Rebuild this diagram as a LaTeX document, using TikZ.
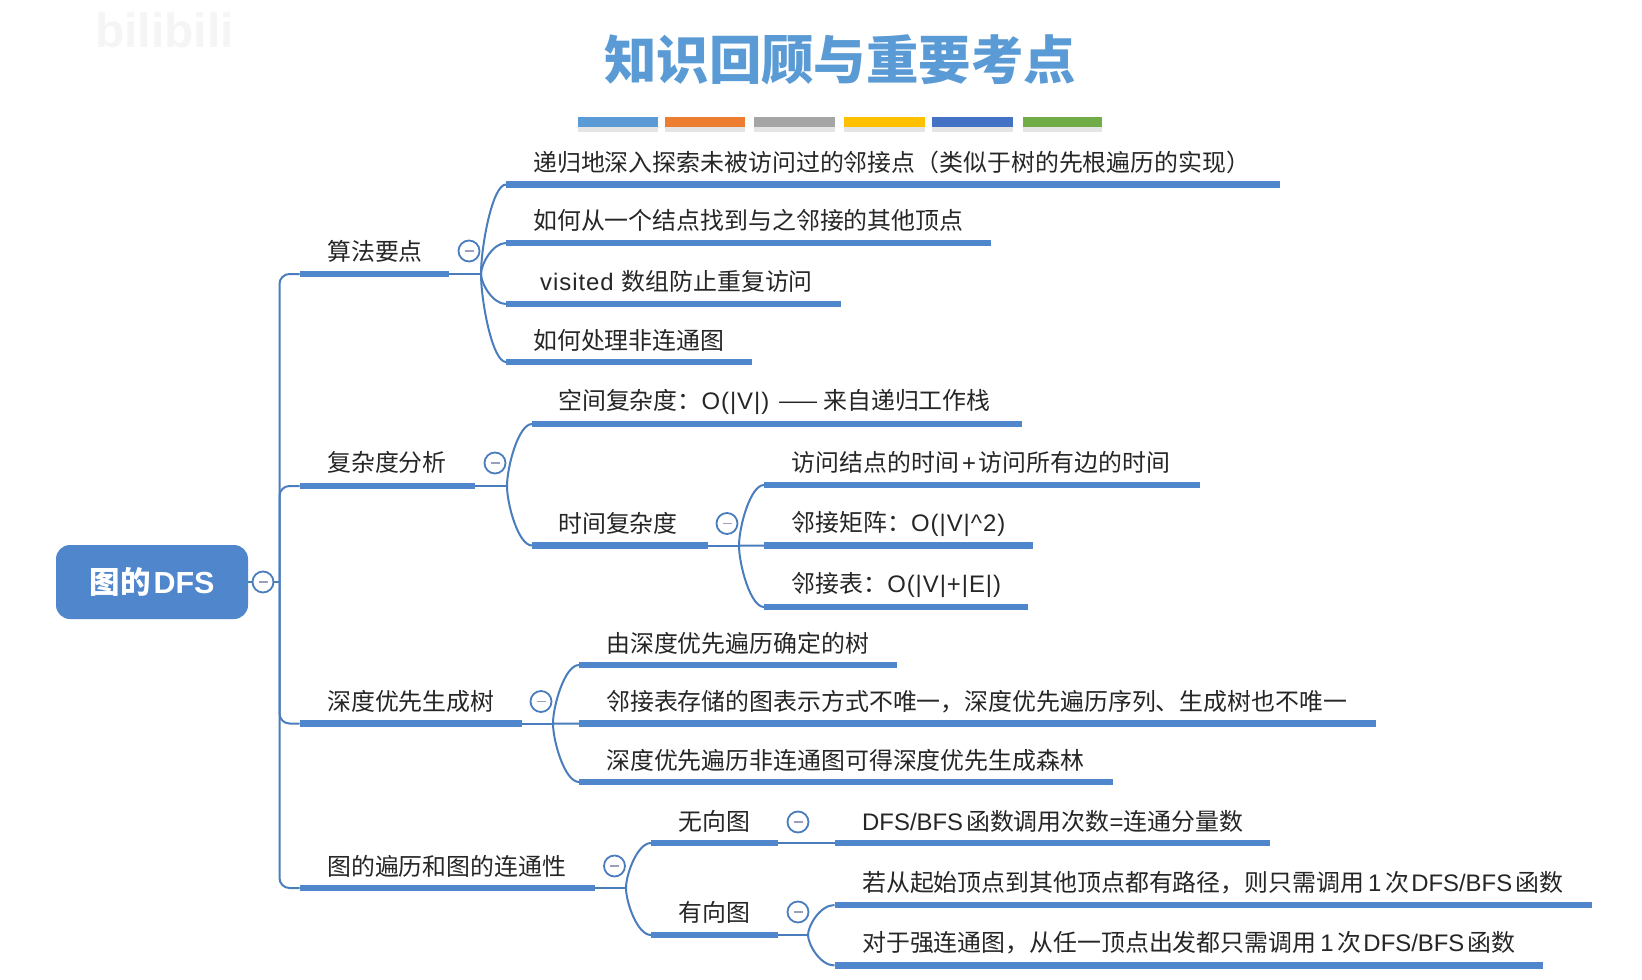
\documentclass[tikz,border=0pt]{standalone}
\usepackage{fontspec}
\setmainfont{Noto Sans CJK SC}
\newfontfamily\latf{Liberation Sans}
\newfontfamily\latw[LetterSpace=4]{Liberation Sans}
\newcommand\la[1]{{\latf #1}}
\newcommand\lw[1]{{\latw #1}}
\definecolor{mblue}{HTML}{4F86CC}
\definecolor{lblue}{HTML}{4A7DBD}
\definecolor{ttl}{HTML}{5B9BD5}
\definecolor{txt}{HTML}{262626}
\definecolor{sw2}{HTML}{ED7D31}
\definecolor{sw3}{HTML}{A5A5A5}
\definecolor{sw4}{HTML}{FFC000}
\definecolor{sw5}{HTML}{4472C4}
\definecolor{sw6}{HTML}{70AD47}
\definecolor{mns}{HTML}{9A9FC0}
\tikzset{
  barstyle/.style={fill=mblue,draw=none,inner sep=0pt,minimum height=6.5pt,outer sep=0pt},
  label/.style={anchor=west,inner sep=0pt,text=txt,font=\fontsize{23.9}{28}\selectfont},
  conn/.style={draw=lblue,line width=2pt},
  btn/.style={circle,draw=lblue,line width=1.8pt,fill=white,minimum size=21pt,inner sep=0pt,
    path picture={\draw[line width=1.8pt,color=mns] ([xshift=-4.5pt]path picture bounding box.center) -- ([xshift=4.5pt]path picture bounding box.center);}},
  swatch/.style={inner sep=0pt,minimum height=10pt,anchor=west,outer sep=0pt},
  swshadow/.style={fill=black!10,draw=none}
}
\newcommand\mbar[4]{\pgfmathsetmacro\mbw{#3-#2}\node[barstyle,minimum width=\mbw pt,anchor=west] (#1) at (#2,#4) {};}
\newcommand\swt[4]{\pgfmathsetmacro\mbw{#3-#2}\fill[swshadow] (#2,127) rectangle (#3,132);\node[swatch,fill=#4,minimum width=\mbw pt] (#1) at (#2,122) {};}
\newcommand\cur[2]{\draw[conn] (#1) .. controls ($(#1)!0.3!(#1|-#2.west)$) and ($(#1|-#2.west)!0.45!(#2.west)$) .. (#2.west);}
\usetikzlibrary{calc}
\begin{document}
\begin{tikzpicture}[x=1pt,y=-1pt]
\useasboundingbox (0,0) rectangle (1642,980);
\fill[white] (0,0) rectangle (1642,980);
% faint watermark
\node[anchor=west,inner sep=0pt,text=black!4,font=\latf\bfseries\fontsize{48}{54}\selectfont] (wm) at (95,30) {bilibili};
% title
\node[inner sep=0pt,text=ttl,font=\bfseries\fontsize{52.4}{60}\selectfont] (title) at (840,60) {知识回顾与重要考点};
\swt{s1}{578}{657.5}{ttl}
\swt{s2}{665}{744.5}{sw2}
\swt{s3}{754}{834.5}{sw3}
\swt{s4}{844}{924.5}{sw4}
\swt{s5}{932}{1012.5}{sw5}
\swt{s6}{1023}{1102}{sw6}
% root
\node[fill=mblue,rounded corners=14pt,minimum width=192pt,minimum height=74pt,inner sep=0pt,text=white,font=\bfseries\fontsize{30.5}{34}\selectfont] (root) at (152,582) {\raisebox{-1pt}{图的\hspace{3pt}\la{DFS}}};
\node[btn] (rb) at (263,582) {};
\coordinate (sp) at (279.5,582);
\draw[conn] (root.east) -- (rb.west);
\draw[conn] (rb.east) -- (sp);
% level 1 bars
\mbar{a}{299.5}{449}{274}
\mbar{b}{299.5}{475}{486}
\mbar{c}{299.5}{521.5}{723.5}
\mbar{d}{299.5}{595}{888}
\foreach \n in {a,b,c,d} {\draw[conn,rounded corners=10pt] (sp) |- (\n.west);}
\node[label] (ta) at (327,251) {算法要点};
\node[label] (tb) at (327,462) {复杂度分析};
\node[label] (tc) at (327,701.5) {深度优先生成树};
\node[label] (td) at (327,866) {图的遍历和图的连通性};
% branch A
\coordinate (ja) at (481,274);
\draw[conn] (a.east) -- (ja);
\mbar{a1}{506}{1280}{184.5}
\mbar{a2}{506}{990.5}{243}
\mbar{a3}{506}{841}{304}
\mbar{a4}{506}{752}{362}
\foreach \n in {a1,a2,a3,a4} {\cur{ja}{\n}}
\node[btn] (ab) at (469,251) {};
\node[label] (ta1) at (533,162) {递归地深入探索未被访问过的邻接点（类似于树的先根遍历的实现）};
\node[label] (ta2) at (533,220) {如何从一个结点找到与之邻接的其他顶点};
\node[label] (ta3) at (540,281) {\lw{visited}\hspace{8pt}数组防止重复访问};
\node[label] (ta4) at (533,340) {如何处理非连通图};
% branch B
\coordinate (jb) at (507,486);
\draw[conn] (b.east) -- (jb);
\mbar{b1}{532}{1022}{424}
\mbar{b2}{532}{708}{545.5}
\foreach \n in {b1,b2} {\cur{jb}{\n}}
\node[btn] (bb) at (495,463) {};
\node[label] (tb1) at (558,402) {空间复杂度：\lw{O(|V|)}\hspace{9pt}——\hspace{5pt}来自递归工作栈};
\node[label] (tb2) at (558,523.5) {时间复杂度};
\coordinate (jb2) at (739,545.5);
\draw[conn] (b2.east) -- (jb2);
\mbar{b21}{764}{1200}{485}
\mbar{b22}{764}{1033}{545.5}
\mbar{b23}{764}{1028}{607}
\foreach \n in {b21,b22,b23} {\cur{jb2}{\n}}
\node[btn] (b2b) at (727,523.5) {};
\node[label] (tb21) at (791.5,462) {访问结点的时间\hspace{3pt}\la{+}\hspace{3pt}访问所有边的时间};
\node[label] (tb22) at (791.5,524) {邻接矩阵：\lw{O(|V|\^{}2)}};
\node[label] (tb23) at (791.5,585) {邻接表：\lw{O(|V|+|E|)}};
% branch C
\coordinate (jc) at (553,723.5);
\draw[conn] (c.east) -- (jc);
\mbar{c1}{579}{897}{665}
\mbar{c2}{579}{1376}{723.5}
\mbar{c3}{579}{1113}{782}
\foreach \n in {c1,c2,c3} {\cur{jc}{\n}}
\node[btn] (cb) at (541,701.5) {};
\node[label] (tc1) at (606,643) {由深度优先遍历确定的树};
\node[label] (tc2) at (606,701.5) {邻接表存储的图表示方式不唯一，深度优先遍历序列、生成树也不唯一};
\node[label] (tc3) at (606,760) {深度优先遍历非连通图可得深度优先生成森林};
% branch D
\coordinate (jd) at (626,888);
\draw[conn] (d.east) -- (jd);
\mbar{d1}{651}{778}{843}
\mbar{d2}{651}{778}{935}
\foreach \n in {d1,d2} {\cur{jd}{\n}}
\node[btn] (db) at (614.5,866) {};
\node[label] (td1) at (678.5,821) {无向图};
\node[label] (td2) at (678.5,912) {有向图};
\mbar{d11}{834.5}{1270}{843}
\draw[conn] (d1.east) -- (d11.west);
\node[btn] (d1b) at (798,822) {};
\node[label] (td11) at (862,821) {\la{DFS/BFS}\hspace{3pt}函数调用次数\la{=}连通分量数};
\coordinate (jd2) at (808,935);
\draw[conn] (d2.east) -- (jd2);
\mbar{d21}{834.5}{1592}{905}
\mbar{d22}{834.5}{1543}{965.5}
\foreach \n in {d21,d22} {\cur{jd2}{\n}}
\node[btn] (d2b) at (798,912) {};
\node[label] (td21) at (862,882.5) {若从起始顶点到其他顶点都有路径，则只需调用\hspace{4pt}\la{1}\hspace{4pt}次\hspace{2pt}\la{DFS/BFS}\hspace{3pt}函数};
\node[label] (td22) at (862,942.5) {对于强连通图，从任一顶点出发都只需调用\hspace{4pt}\la{1}\hspace{4pt}次\hspace{2pt}\la{DFS/BFS}\hspace{3pt}函数};
\end{tikzpicture}
\end{document}
